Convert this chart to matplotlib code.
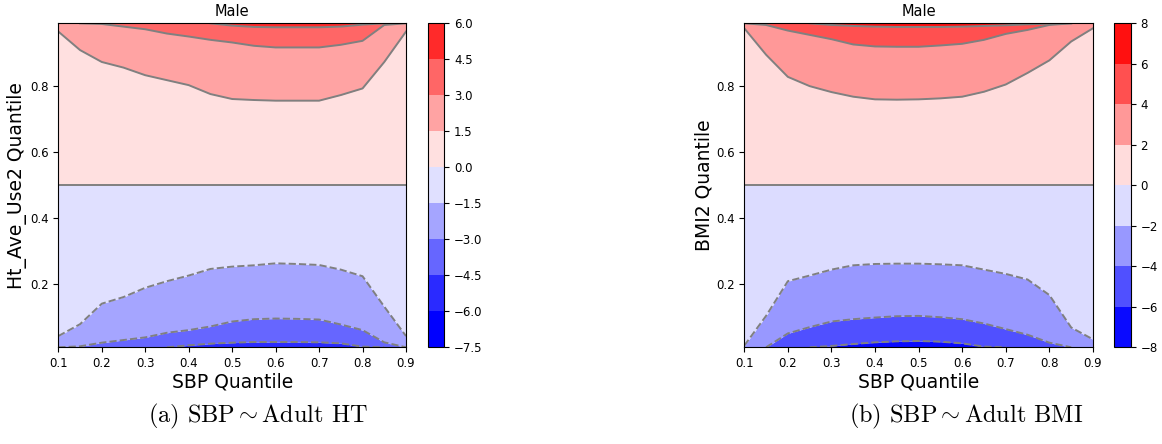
import numpy as np
import matplotlib
matplotlib.use('Agg')
import matplotlib.pyplot as plt
from matplotlib.colors import ListedColormap, BoundaryNorm
from matplotlib.cm import ScalarMappable

plt.rcParams['mathtext.fontset'] = 'cm'

# SBP quantile grid (x) and y range of the quantile grid
sbp_q = [0.10, 0.15, 0.20, 0.25, 0.30, 0.35, 0.40, 0.45, 0.50,
         0.55, 0.60, 0.65, 0.70, 0.75, 0.80, 0.85, 0.90]
y_lo, y_hi = 0.01, 0.99

# (a) SBP ~ Adult HT : contour heights (Ht_Ave_Use2 quantile) per level
ht_levels = [-7.5, -6.0, -4.5, -3.0, -1.5, 0.0, 1.5, 3.0, 4.5, 6.0]
ht_c = {
    -4.5: [0.01, 0.01, 0.01, 0.01, 0.01, 0.01, 0.016, 0.021, 0.024,
           0.026, 0.026, 0.026, 0.025, 0.022, 0.012, 0.01, 0.01],
    -3.0: [0.01, 0.013, 0.024, 0.032, 0.040, 0.054, 0.062, 0.073, 0.088,
           0.095, 0.097, 0.096, 0.094, 0.079, 0.062, 0.025, 0.01],
    -1.5: [0.044, 0.080, 0.142, 0.162, 0.190, 0.210, 0.227, 0.247, 0.254,
           0.258, 0.264, 0.262, 0.259, 0.245, 0.225, 0.133, 0.044],
    0.0: [0.5] * 17,
    1.5: [0.965, 0.909, 0.873, 0.856, 0.833, 0.818, 0.803, 0.776, 0.761,
          0.758, 0.756, 0.756, 0.756, 0.773, 0.793, 0.873, 0.965],
    3.0: [0.99, 0.99, 0.988, 0.980, 0.972, 0.959, 0.950, 0.940, 0.932,
          0.922, 0.917, 0.917, 0.917, 0.925, 0.937, 0.985, 0.99],
    4.5: [0.99, 0.99, 0.99, 0.99, 0.99, 0.99, 0.99, 0.99, 0.983,
          0.979, 0.978, 0.978, 0.978, 0.980, 0.986, 0.99, 0.99],
}
ht_colors = ['#0000ff', '#2a2aff', '#6666ff', '#a5a5ff', '#e0e0ff',
             '#ffe0e0', '#ffa3a3', '#ff6666', '#ff2a2a']

# (b) SBP ~ Adult BMI : contour heights (BMI2 quantile) per level
bmi_levels = [-8, -6, -4, -2, 0, 2, 4, 6, 8]
bmi_c = {
    -6: [0.01, 0.01, 0.01, 0.01, 0.014, 0.020, 0.025, 0.028, 0.029,
         0.027, 0.022, 0.012, 0.01, 0.01, 0.01, 0.01, 0.01],
    -4: [0.01, 0.01, 0.052, 0.071, 0.088, 0.095, 0.100, 0.104, 0.105,
         0.101, 0.095, 0.082, 0.065, 0.048, 0.024, 0.01, 0.01],
    -2: [0.015, 0.105, 0.210, 0.227, 0.245, 0.258, 0.262, 0.263, 0.263,
         0.261, 0.258, 0.245, 0.232, 0.215, 0.168, 0.070, 0.034],
    0: [0.5] * 17,
    2: [0.975, 0.895, 0.828, 0.800, 0.782, 0.768, 0.760, 0.759, 0.760,
        0.763, 0.768, 0.783, 0.805, 0.840, 0.878, 0.935, 0.975],
    4: [0.99, 0.985, 0.968, 0.955, 0.942, 0.926, 0.920, 0.919, 0.919,
        0.923, 0.928, 0.940, 0.958, 0.970, 0.985, 0.99, 0.99],
    6: [0.99, 0.99, 0.99, 0.99, 0.985, 0.982, 0.980, 0.979, 0.979,
        0.979, 0.980, 0.982, 0.984, 0.987, 0.989, 0.99, 0.99],
}
bmi_colors = ['#0a0aff', '#5050ff', '#9898ff', '#dcdcff',
              '#ffdcdc', '#ff9898', '#ff5050', '#ff1010']


def edge_masked(y):
    # hide stretches of a contour that lie on the plot border
    y = np.asarray(y, float)
    at_edge = (y <= y_lo) | (y >= y_hi)
    keep = ~at_edge
    keep[1:] |= ~at_edge[:-1]
    keep[:-1] |= ~at_edge[1:]
    return np.where(keep, y, np.nan)


def draw_panel(ax, cax, levels, contours, colors, ylabel):
    x = np.array(sbp_q)
    keys = sorted(contours)
    bounds = [np.full(len(x), y_lo)] + [np.array(contours[k]) for k in keys] + [np.full(len(x), y_hi)]
    # band index of the region below the lowest drawn contour
    first = levels.index(keys[0]) - 1
    for i in range(len(bounds) - 1):
        ax.fill_between(x, bounds[i], bounds[i + 1], color=colors[first + i], lw=0, zorder=1)
    for k in keys:
        ax.plot(x, edge_masked(contours[k]), color='grey', lw=1.4,
                ls='--' if k < 0 else '-', zorder=2)
    ax.set_xlim(0.1, 0.9)
    ax.set_ylim(y_lo, y_hi)
    ax.set_xticks(np.arange(0.1, 0.91, 0.1))
    ax.set_yticks([0.2, 0.4, 0.6, 0.8])
    ax.tick_params(labelsize=8.5)
    ax.set_xlabel('SBP Quantile', fontsize=13.5, labelpad=2)
    ax.set_ylabel(ylabel, fontsize=13.5, labelpad=2)
    ax.set_title('Male', fontsize=10.5, pad=5)

    cmap = ListedColormap(colors)
    norm = BoundaryNorm(levels, cmap.N)
    cb = plt.colorbar(ScalarMappable(norm=norm, cmap=cmap), cax=cax, ticks=levels)
    cb.ax.tick_params(labelsize=8.5)
    cb.outline.set_linewidth(0.8)


fig = plt.figure(figsize=(11.62, 4.44), dpi=100)
ax1 = fig.add_axes([0.0502, 0.2178, 0.2992, 0.7297])
cax1 = fig.add_axes([0.3681, 0.2178, 0.0143, 0.7297])
ax2 = fig.add_axes([0.6405, 0.2178, 0.3001, 0.7297])
cax2 = fig.add_axes([0.9590, 0.2178, 0.0141, 0.7297])

draw_panel(ax1, cax1, ht_levels, ht_c, ht_colors, 'Ht_Ave_Use2 Quantile')
draw_panel(ax2, cax2, bmi_levels, bmi_c, bmi_colors, 'BMI2 Quantile')

fig.text(0.222, 0.062, r'(a) SBP$\sim$Adult HT', family='cmr10', fontsize=17.5,
         ha='center', va='center')
fig.text(0.831, 0.062, r'(b) SBP$\sim$Adult BMI', family='cmr10', fontsize=17.5,
         ha='center', va='center')

fig.savefig('out.png', dpi=100)
